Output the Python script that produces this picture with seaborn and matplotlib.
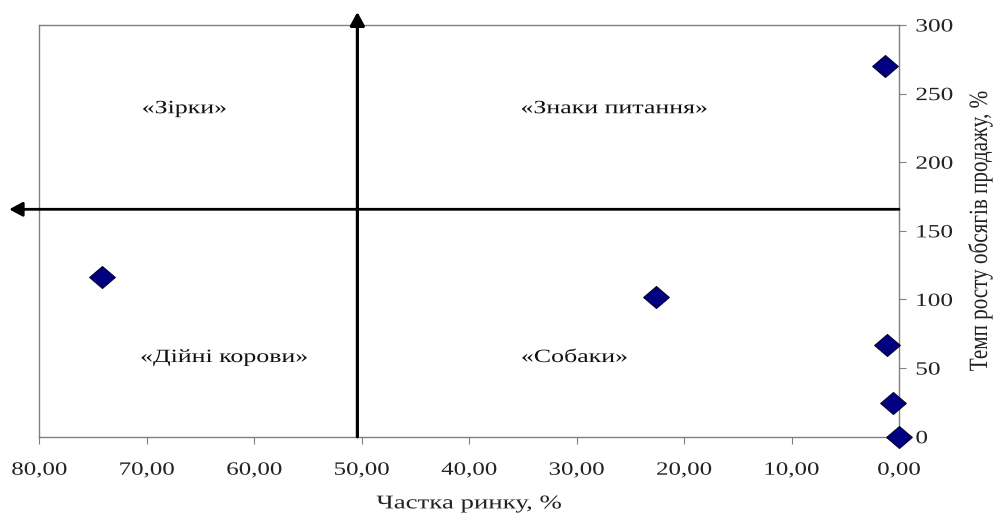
import matplotlib
matplotlib.use("Agg")
import matplotlib.pyplot as plt
from matplotlib.path import Path
from matplotlib.patheffects import AbstractPathEffect
from matplotlib.ticker import FuncFormatter
from matplotlib.transforms import Affine2D
import pandas as pd
import seaborn as sns

# Market share (%) and sales growth rate (%) for each product
market_share = [1.3, 74.2, 22.6, 1.1, 0.55, 0.0]
growth_rate = [270.4, 116.6, 102.0, 66.8, 24.3, 0.0]

# Quadrant boundaries
share_split = 50.4
growth_split = 165.7

quadrant_names = ["«Зірки»", "«Знаки питання»", "«Дійні корови»", "«Собаки»"]
quadrant_x = [66.5, 26.5, 62.8, 30.2]
quadrant_y = [239, 239, 57.7, 57.7]

x_ticks = [80, 70, 60, 50, 40, 30, 20, 10, 0]
y_ticks = [0, 50, 100, 150, 200, 250, 300]

x_label = "Частка ринку, %"
y_label = "Темп росту обсягів продажу, %"


class Stretch(AbstractPathEffect):
    """Draw text glyphs widened by (sx, sy) around the string's own box."""

    def __init__(self, sx=1.0, sy=1.0, anchor="center"):
        super().__init__()
        self.sx, self.sy, self.anchor = sx, sy, anchor

    def draw_path(self, renderer, gc, tpath, affine, rgbFace=None):
        if len(tpath.vertices):
            ext = tpath.get_extents()
            cx = ext.x0 if self.anchor == "left" else (ext.x0 + ext.x1) / 2
            cy = (ext.y0 + ext.y1) / 2
        else:
            cx = cy = 0.0
        widen = Affine2D().translate(-cx, -cy).scale(self.sx, self.sy).translate(cx, cy)
        renderer.draw_path(gc, tpath, widen + affine, rgbFace)


df = pd.DataFrame({"share": market_share, "growth": growth_rate})

sns.set_theme(style="white")
plt.rcParams["font.family"] = ["Liberation Serif", "DejaVu Serif"]

fig = plt.figure(figsize=(9.95, 5.15), dpi=100)
ax = fig.add_axes([0.0395, 0.152, 0.8640, 0.7995])

# Slightly wide diamond marker
diamond = Path([(-1.17, 0), (0, 1), (1.17, 0), (0, -1), (-1.17, 0)],
               [Path.MOVETO, Path.LINETO, Path.LINETO, Path.LINETO, Path.CLOSEPOLY])

sns.scatterplot(data=df, x="share", y="growth", ax=ax, marker=diamond, s=340,
                color="#000080", edgecolor="#000030", linewidth=0.8,
                zorder=5, clip_on=False, legend=False)

ax.set_xlim(80, 0)
ax.set_ylim(0, 300)
ax.set_xticks(x_ticks)
ax.set_yticks(y_ticks)
ax.xaxis.set_major_formatter(FuncFormatter(lambda v, p: f"{v:.2f}".replace(".", ",")))
ax.yaxis.tick_right()
ax.yaxis.set_label_position("right")

for s in ax.spines.values():
    s.set_color("#808080")
    s.set_linewidth(1.0)

ax.tick_params(axis="x", direction="out", length=5, width=0.8, color="#808080",
               pad=13, labelsize=13.5, labelcolor="#222222", bottom=True)
ax.tick_params(axis="y", direction="out", length=5, width=0.8, color="#808080",
               pad=7, labelsize=13.5, labelcolor="#222222", right=True, left=False)

for lbl in ax.get_xticklabels():
    lbl.set_path_effects([Stretch(sx=1.33)])
for lbl in ax.get_yticklabels():
    lbl.set_path_effects([Stretch(sx=1.35, anchor="left")])

ax.set_xlabel(x_label, fontsize=14, color="#222222", labelpad=12,
              path_effects=[Stretch(sx=1.38)])
ax.set_ylabel(y_label, fontsize=15.2, color="#222222", labelpad=19,
              path_effects=[Stretch(sy=1.25)])
ax.grid(False)

# Quadrant dividing arrows
arrow_kw = dict(arrowstyle="-|>,head_length=0.5,head_width=0.27", color="black",
                mutation_scale=16, shrinkA=0, shrinkB=0)
ax.annotate("", xy=(share_split, 309.5), xytext=(share_split, 0),
            arrowprops=dict(lw=2.3, **arrow_kw), annotation_clip=False, zorder=3)
ax.annotate("", xy=(82.8, growth_split), xytext=(0, growth_split),
            arrowprops=dict(lw=2.0, **arrow_kw), annotation_clip=False, zorder=3)

for name, qx, qy in zip(quadrant_names, quadrant_x, quadrant_y):
    ax.text(qx, qy, name, ha="center", va="center", fontsize=13.5, color="#111111",
            path_effects=[Stretch(sx=1.38)])

fig.savefig("out.png", dpi=100)
